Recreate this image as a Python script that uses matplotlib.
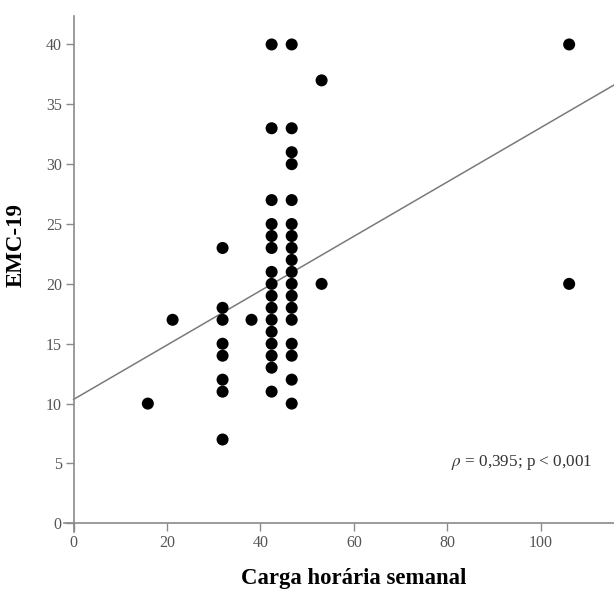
#!/usr/bin/env python3
import numpy as np
import matplotlib
matplotlib.use('Agg')
import matplotlib.pyplot as plt

plt.rcParams['font.family'] = ['Liberation Serif', 'DejaVu Serif']
plt.rcParams['mathtext.fontset'] = 'stix'

## weekly hours (as read against the drawn axis) and EMC-19 score
carga = ([15.9] + [21.2]
         + [31.9]*8 + [38.1]
         + [42.4]*16 + [46.7]*18
         + [53.1]*2 + [106.1]*2)
emc   = ([10] + [17]
         + [23, 18, 17, 15, 14, 12, 11, 7] + [17]
         + [40, 33, 27, 25, 24, 23, 21, 20, 19, 18, 17, 16, 15, 14, 13, 11]
         + [40, 33, 31, 30, 27, 25, 24, 23, 22, 21, 20, 19, 18, 17, 15, 14, 12, 10]
         + [37, 20] + [40, 20])

## fit line
fit_b = 10.35
fit_m = 0.227
x_ticks = [0, 20, 40, 60, 80, 100]
y_ticks = [0, 5, 10, 15, 20, 25, 30, 35, 40]
annot   = r'$\rho$ = 0,395; p < 0,001'

x_max = 115.7
fig = plt.figure(figsize=(6.14, 5.89), dpi=100)
ax = fig.add_axes([0.1046, 0.0973, 0.8954, 0.876])

ax.scatter(carga, emc, s=75, c='black', edgecolors='none', zorder=3)
fx = np.array([0, x_max])
ax.plot(fx, fit_b + fit_m*fx, color='#7a7a7a', lw=1.1, zorder=2)

ax.set_xlim(-2, x_max)
ax.set_ylim(-0.7, 42.4)
ax.set_xticks(x_ticks)
ax.set_yticks(y_ticks)

for side in ['top', 'right']:
    ax.spines[side].set_visible(False)
for side in ['left', 'bottom']:
    ax.spines[side].set_position(('data', 0))
    ax.spines[side].set_color('#8a8a8a')
    ax.spines[side].set_linewidth(1.2)
ax.tick_params(direction='out', length=6, width=1, color='#8a8a8a',
               labelcolor='#555555', labelsize=11.5, pad=2.5)

ax.set_xlabel('Carga horária semanal', fontsize=16.4, fontweight='bold', va='baseline')
ax.xaxis.set_label_coords(0.527, -0.102)
ax.set_ylabel('EMC-19', fontsize=16.5, fontweight='bold', va='center')
ax.yaxis.set_label_coords(-0.0877, 0.556)

ax.text(80.7, 5.06, annot, fontsize=12.3, color='#333333', va='center', ha='left')

fig.savefig('out.png', dpi=100)
